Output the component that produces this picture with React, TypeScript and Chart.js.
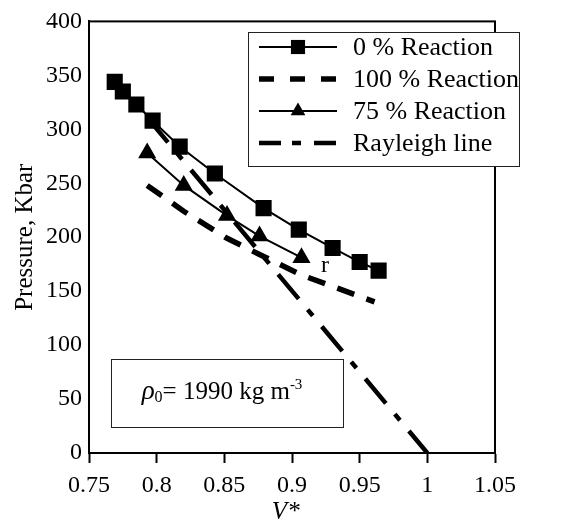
import React, { useEffect, useRef } from 'react';
import { Chart, registerables } from 'chart.js';

Chart.register(...registerables);

const SERIF = "'Liberation Serif', 'Times New Roman', Times, serif";

// Axis ticks
const xTickValues = [0.75, 0.8, 0.85, 0.9, 0.95, 1, 1.05];
const yTickValues = [0, 50, 100, 150, 200, 250, 300, 350, 400];

// Series labels
const seriesLabels = ['0 % Reaction', '100 % Reaction', '75 % Reaction', 'Rayleigh line'];

// 0 % Reaction (unreacted Hugoniot)
const v0 = [0.769, 0.775, 0.785, 0.797, 0.817, 0.843, 0.879, 0.905, 0.93, 0.95, 0.964];
const p0 = [344, 335, 323, 308, 284, 259, 227, 207, 190, 177, 169];

// 100 % Reaction
const v100 = [0.793, 0.82, 0.852, 0.876, 0.907, 0.961];
const p100 = [248, 224, 199, 184, 165, 140];

// 75 % Reaction
const v75 = [0.793, 0.82, 0.852, 0.876, 0.907];
const p75 = [278, 248, 220, 201, 181];

// Rayleigh line
const vRay = [0.785, 1.0];
const pRay = [323, 0];

// annotation label "r" (data coords)
const rLabelPos = { x: 0.9244, y: 167.5 };
const densityText = { symbol: 'ρ', sub: '0', main: '= 1990 kg m', sup: '-3' };

const toPoints = (xs: number[], ys: number[]) => xs.map((x, i) => ({ x, y: ys[i] }));

const overlayPlugin = {
  id: 'overlay',
  afterDatasetsDraw(chart: any) {
    const { ctx, chartArea: ca, scales } = chart;
    ctx.save();
    // frame around plot area
    ctx.strokeStyle = '#000';
    ctx.lineWidth = 2;
    ctx.setLineDash([]);
    ctx.strokeRect(ca.left, ca.top, ca.right - ca.left, ca.bottom - ca.top);

    // "r" label
    ctx.fillStyle = '#000';
    ctx.font = `24px ${SERIF}`;
    ctx.textAlign = 'center';
    ctx.textBaseline = 'alphabetic';
    ctx.fillText('r', scales.x.getPixelForValue(rLabelPos.x), scales.y.getPixelForValue(rLabelPos.y));

    // legend box
    const L = { x: 248, y: 32, w: 271, h: 134, row0: 47, step: 32, lx0: 259, lx1: 337, tx: 353 };
    ctx.fillStyle = '#fff';
    ctx.fillRect(L.x, L.y, L.w, L.h);
    ctx.strokeStyle = '#222';
    ctx.lineWidth = 1;
    ctx.strokeRect(L.x + 0.5, L.y + 0.5, L.w, L.h);
    const ds = chart.data.datasets;
    const legendDash: number[][] = [[], [15, 16], [], [22, 11, 9, 13]];
    ds.forEach((d: any, i: number) => {
      const y = L.row0 + i * L.step;
      ctx.strokeStyle = '#000';
      ctx.lineWidth = d.borderWidth;
      ctx.setLineDash(legendDash[i]);
      ctx.lineDashOffset = 0;
      ctx.lineCap = 'butt';
      ctx.beginPath();
      ctx.moveTo(L.lx0, y);
      ctx.lineTo(L.lx1, y);
      ctx.stroke();
      ctx.setLineDash([]);
      const cx = (L.lx0 + L.lx1) / 2;
      ctx.fillStyle = '#000';
      if (d.pointStyle === 'rect' && d.pointRadius > 0) {
        const s = d.pointRadius * Math.SQRT1_2;
        ctx.fillRect(cx - s, y - s, 2 * s, 2 * s);
      } else if (d.pointStyle === 'triangle' && d.pointRadius > 0) {
        const r = d.pointRadius;
        ctx.beginPath();
        ctx.moveTo(cx, y - r);
        ctx.lineTo(cx + r * Math.sin(2 * Math.PI / 3), y + r / 2);
        ctx.lineTo(cx - r * Math.sin(2 * Math.PI / 3), y + r / 2);
        ctx.closePath();
        ctx.fill();
      }
      ctx.font = `26px ${SERIF}`;
      ctx.textAlign = 'left';
      ctx.textBaseline = 'alphabetic';
      ctx.fillText(d.label, L.tx, y + 8);
    });

    // density box
    const B = { x: 111, y: 359, w: 232, h: 68, cx: 222, base: 399 };
    ctx.strokeStyle = '#222';
    ctx.lineWidth = 1;
    ctx.strokeRect(B.x + 0.5, B.y + 0.5, B.w, B.h);
    const parts = [
      { t: densityText.symbol, f: `italic 27px ${SERIF}`, dy: 0 },
      { t: densityText.sub, f: `16px ${SERIF}`, dy: 3 },
      { t: densityText.main, f: `25px ${SERIF}`, dy: 0 },
      { t: densityText.sup, f: `15px ${SERIF}`, dy: -10 },
    ];
    let total = 0;
    const widths = parts.map((p) => {
      ctx.font = p.f;
      const w = ctx.measureText(p.t).width;
      total += w;
      return w;
    });
    let x = B.cx - total / 2;
    ctx.fillStyle = '#000';
    ctx.textAlign = 'left';
    parts.forEach((p, i) => {
      ctx.font = p.f;
      ctx.fillText(p.t, x, B.base + p.dy);
      x += widths[i];
    });
    ctx.restore();
  },
};

export default function App() {
  const ref = useRef<HTMLCanvasElement | null>(null);
  useEffect(() => {
    if (!ref.current) return;
    const chart = new Chart(ref.current, {
      type: 'scatter',
      data: {
        datasets: [
          {
            label: seriesLabels[0],
            data: toPoints(v0, p0),
            showLine: true,
            borderColor: '#000',
            backgroundColor: '#000',
            borderWidth: 2,
            pointStyle: 'rect',
            pointRadius: 10,
            pointHoverRadius: 10,
            tension: 0,
          },
          {
            label: seriesLabels[1],
            data: toPoints(v100, p100),
            showLine: true,
            borderColor: '#000',
            backgroundColor: '#000',
            borderWidth: 5.5,
            borderDash: [18, 13],
            pointRadius: 0,
            tension: 0,
          },
          {
            label: seriesLabels[2],
            data: toPoints(v75, p75),
            showLine: true,
            borderColor: '#000',
            backgroundColor: '#000',
            borderWidth: 2,
            pointStyle: 'triangle',
            pointRadius: 8.5,
            pointHoverRadius: 8.5,
            tension: 0,
          },
          {
            label: seriesLabels[3],
            data: toPoints(vRay, pRay),
            showLine: true,
            borderColor: '#000',
            backgroundColor: '#000',
            borderWidth: 4.5,
            borderDash: [32, 14, 8, 14],
            borderDashOffset: 50.7,
            pointRadius: 0,
            tension: 0,
          },
        ],
      },
      options: {
        animation: false,
        responsive: false,
        devicePixelRatio: 1,
        layout: { padding: { top: 16, right: 68, left: 0, bottom: 0 } },
        plugins: { legend: { display: false }, tooltip: { enabled: false } },
        scales: {
          x: {
            type: 'linear',
            min: 0.75,
            max: 1.05,
            afterBuildTicks: (s: any) => {
              s.ticks = xTickValues.map((v) => ({ value: v }));
            },
            afterFit: (s: any) => {
              s.height = 71;
            },
            grid: {
              display: true,
              drawOnChartArea: false,
              drawTicks: true,
              tickLength: 10,
              tickWidth: 2,
              tickColor: '#000',
            },
            border: { display: true, color: '#000', width: 2 },
            ticks: {
              color: '#000',
              font: { family: SERIF, size: 24 },
              padding: 8,
              maxRotation: 0,
              autoSkip: false,
              callback: (v: any) => String(+Number(v).toFixed(2)),
            },
            title: {
              display: true,
              text: 'V*\u2002',
              color: '#000',
              font: { family: SERIF, size: 25, style: 'italic', lineHeight: 1 },
              padding: { top: 0, bottom: -1 },
            },
          },
          y: {
            type: 'linear',
            min: 0,
            max: 400,
            afterBuildTicks: (s: any) => {
              s.ticks = yTickValues.map((v) => ({ value: v }));
            },
            afterFit: (s: any) => {
              s.width = 89;
            },
            grid: { display: false, drawTicks: false },
            border: { display: true, color: '#000', width: 2 },
            ticks: {
              color: '#000',
              font: { family: SERIF, size: 24 },
              padding: 7,
              autoSkip: false,
              callback: (v: any) => String(v),
            },
            title: {
              display: true,
              text: 'Pressure, Kbar',
              color: '#000',
              font: { family: SERIF, size: 25, lineHeight: 1 },
              padding: { top: 13, bottom: 0 },
            },
          },
        },
      },
      plugins: [overlayPlugin],
    });
    return () => chart.destroy();
  }, []);
  return (
    <div style={{ position: 'absolute', left: 0, top: 0, width: 563, height: 524, background: '#fff' }}>
      <canvas ref={ref} width={563} height={524} style={{ display: 'block' }} />
    </div>
  );
}
